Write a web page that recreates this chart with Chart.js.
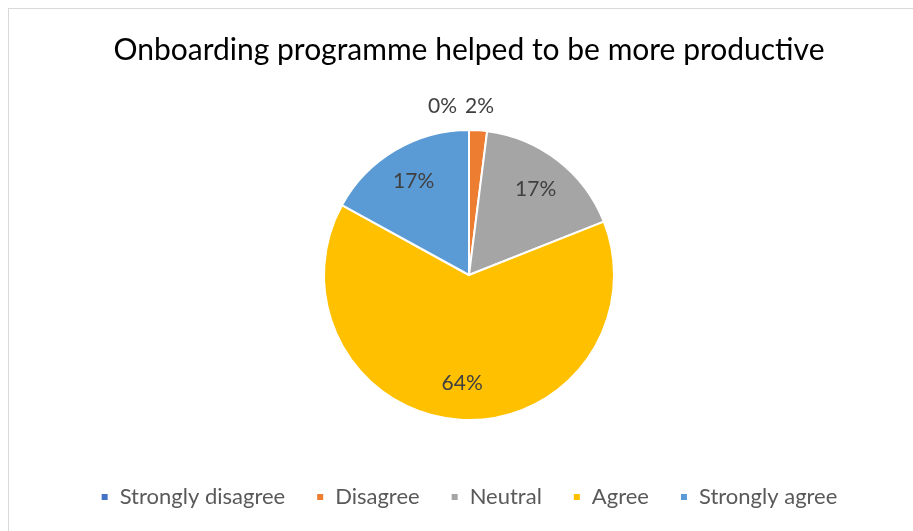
<!DOCTYPE html>
<html>
<head>
<meta charset="utf-8">
<script src="https://cdn.jsdelivr.net/npm/chart.js@4"></script>
<style>
    html, body { margin: 0; padding: 0; background: #fff; overflow: hidden; }
    #frame {
        position: absolute;
        left: 8px;
        top: 8px;
        width: 920px;
        height: 530px;
        border-left: 1px solid #d9d9d9;
        border-top: 1px solid #d9d9d9;
    }
    #chart { position: absolute; left: 0; top: 0; }
</style>
</head>
<body>
<div id="frame">
    <canvas id="chart" width="920" height="509"></canvas>
</div>
<script>
// **********************************************
// Survey data

const answers = ['Strongly disagree', 'Disagree', 'Neutral', 'Agree', 'Strongly agree'];
const shares = [0, 2, 17, 64, 17];   // percent of respondents
const sliceColours = ['#4472C4', '#ED7D31', '#A5A5A5', '#FFC000', '#5B9BD5'];
const chartTitle = 'Onboarding programme helped to be more productive';

const fontFamily = "Lato, 'Open Sans', sans-serif";


// **********************************************
// Percentage labels on the slices

const sliceLabels = {
    id: 'sliceLabels',
    afterDatasetsDraw(chart) {
        const ctx = chart.ctx;
        const meta = chart.getDatasetMeta(0);
        const values = chart.data.datasets[0].data;

        ctx.save();
        ctx.font = '21px ' + fontFamily;
        ctx.fillStyle = '#404040';
        ctx.textBaseline = 'middle';

        meta.data.forEach((arc, i) => {
            const p = arc.getProps(['x', 'y', 'startAngle', 'endAngle', 'outerRadius'], true);
            const mid = (p.startAngle + p.endAngle) / 2;
            const text = values[i] + '%';

            // small slices get their label outside the pie
            let r = p.outerRadius * 0.75;
            if (values[i] < 5) r = p.outerRadius + 24;

            let x = p.x + Math.cos(mid) * r;
            const y = p.y + Math.sin(mid) * r;

            ctx.textAlign = 'center';
            if (values[i] === 0) {
                // push the empty slice's label left so it clears its neighbour
                ctx.textAlign = 'right';
                x -= 12;
            }
            ctx.fillText(text, x, y);
        });
        ctx.restore();
    }
};


// **********************************************
// Pie chart

let ctx = document.getElementById('chart').getContext('2d');

let pieChart = new Chart(ctx, {
    type: 'pie',
    data: {
        labels: answers,
        datasets: [{
            data: shares,
            backgroundColor: sliceColours,
            borderColor: '#ffffff',
            borderWidth: 2
        }]
    },
    options: {
        responsive: false,
        animation: false,
        radius: 145,
        layout: {
            padding: 0
        },
        plugins: {
            title: {
                display: true,
                text: chartTitle,
                color: '#000000',
                font: { family: fontFamily, size: 30, weight: 'normal' },
                padding: { top: 23.5, bottom: 26.5 }
            },
            legend: {
                position: 'bottom',
                labels: {
                    color: '#595959',
                    font: { family: fontFamily, size: 22 },
                    boxWidth: 8,
                    boxHeight: 8,
                    padding: 31
                }
            },
            tooltip: { enabled: false }
        }
    },
    plugins: [sliceLabels]
});
</script>
</body>
</html>
